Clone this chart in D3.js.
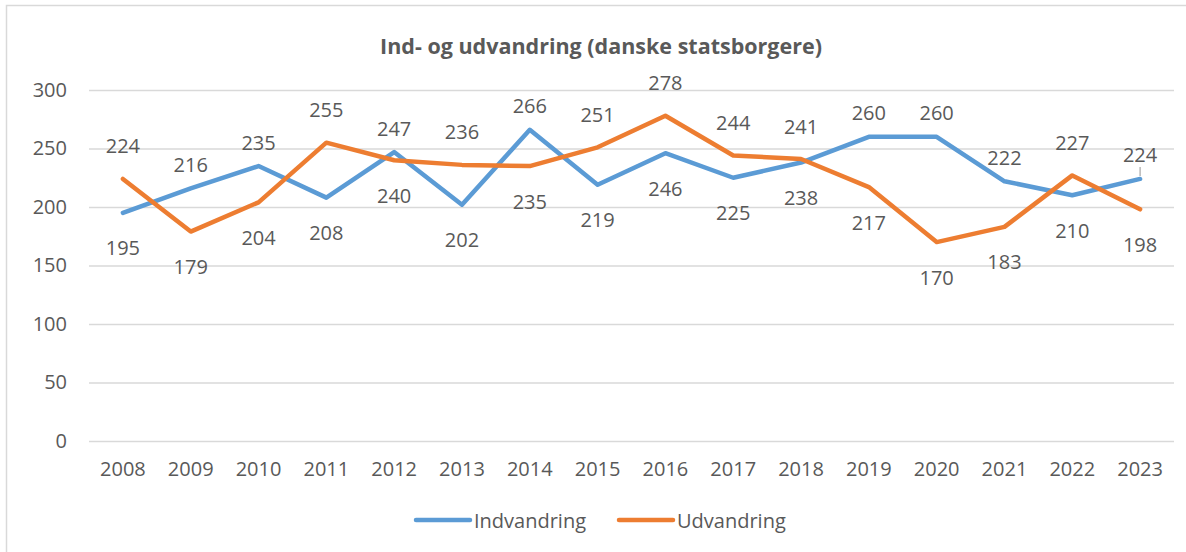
<!DOCTYPE html>
<html>
<head>
<meta charset="utf-8">
<script src="https://cdn.jsdelivr.net/npm/d3@7"></script>
<style>
  html, body { margin: 0; padding: 0; background: #fff; }
  svg { display: block; }
  text { font-family: "Open Sans", "Liberation Sans", sans-serif; fill: #595959; }
</style>
</head>
<body>
<svg id="chart" width="1186" height="552"></svg>
<script>
// Years on the category axis
const years = ["2008","2009","2010","2011","2012","2013","2014","2015",
               "2016","2017","2018","2019","2020","2021","2022","2023"];
// Immigration of Danish citizens
const indvandring = [195, 216, 235, 208, 247, 202, 266, 219, 246, 225, 238, 260, 260, 222, 210, 224];
// Emigration of Danish citizens
const udvandring = [224, 179, 204, 255, 240, 236, 235, 251, 278, 244, 241, 217, 170, 183, 227, 198];
// Value-axis ticks
const yTicks = [0, 50, 100, 150, 200, 250, 300];

const title = "Ind- og udvandring (danske statsborgere)";
const series = [
  { name: "Indvandring", values: indvandring, color: "#5B9BD5", above: -24 },
  { name: "Udvandring",  values: udvandring,  color: "#ED7D31", above: -33 }
];
const FONT = "'Open Sans', 'Liberation Sans', sans-serif";
const FS = "20px";

const svg = d3.select("#chart");

// outer chart frame
svg.append("rect")
  .attr("x", 6.5).attr("y", 5.5)
  .attr("width", 1200).attr("height", 600)
  .attr("fill", "none").attr("stroke", "#D9D9D9").attr("stroke-width", 1.5);

const x = d3.scaleBand().domain(years).range([89, 1174]);
const y = d3.scaleLinear().domain([0, 300]).range([441, 90]);
const cx = d => x(d) + x.bandwidth() / 2;

// title
svg.append("text")
  .attr("x", 601).attr("y", 45)
  .attr("text-anchor", "middle").attr("dominant-baseline", "central")
  .style("font-size", "21.5px").style("font-weight", "bold")
  .text(title);

// horizontal gridlines + value labels
const yAxis = d3.axisLeft(y).tickValues(yTicks).tickSize(-(1174 - 89)).tickPadding(22);
const gy = svg.append("g").attr("transform", "translate(89,0)").call(yAxis);
gy.select(".domain").remove();
gy.selectAll(".tick line").attr("stroke", "#D9D9D9").attr("stroke-width", 1.5);
gy.selectAll(".tick text")
  .attr("fill", "#595959")
  .style("font-size", FS)
  .style("font-family", FONT);

// category labels
const xAxis = d3.axisBottom(x).tickSize(0).tickPadding(21);
const gx = svg.append("g").attr("transform", "translate(0,441)").call(xAxis);
gx.select(".domain").remove();
gx.selectAll(".tick text")
  .attr("fill", "#595959")
  .style("font-size", FS)
  .style("font-family", FONT);

// series lines
const line = d3.line().x((d, i) => cx(years[i])).y(d => y(d));
series.forEach(s => {
  svg.append("path")
    .datum(s.values)
    .attr("d", line)
    .attr("fill", "none")
    .attr("stroke", s.color)
    .attr("stroke-width", 4.5)
    .attr("stroke-linejoin", "round")
    .attr("stroke-linecap", "round");
});

// data labels: the higher value of each year sits above its point, the lower below
series.forEach((s, si) => {
  const other = series[1 - si].values;
  const labelY = (d, i) => y(d) + (d >= other[i] ? s.above : 35);
  svg.append("g").selectAll("text")
    .data(s.values)
    .join("text")
    .attr("x", (d, i) => cx(years[i]))
    .attr("y", labelY)
    .attr("text-anchor", "middle")
    .attr("dominant-baseline", "central")
    .style("font-size", FS)
    .text(d => d);
  // leader line for the last label of the immigration series
  if (si === 0) {
    const last = s.values.length - 1;
    const ly = labelY(s.values[last], last);
    svg.append("line")
      .attr("x1", cx(years[last])).attr("x2", cx(years[last]))
      .attr("y1", ly + 12).attr("y2", y(s.values[last]) - 3)
      .attr("stroke", "#A6A6A6").attr("stroke-width", 1.2);
  }
});

// legend
const legendItems = [
  { name: "Indvandring", color: "#5B9BD5", x: 416 },
  { name: "Udvandring",  color: "#ED7D31", x: 619 }
];
const lg = svg.append("g");
legendItems.forEach(it => {
  lg.append("line")
    .attr("x1", it.x).attr("x2", it.x + 54)
    .attr("y1", 520).attr("y2", 520)
    .attr("stroke", it.color).attr("stroke-width", 4.5).attr("stroke-linecap", "round");
  lg.append("text")
    .attr("x", it.x + 58).attr("y", 520)
    .attr("dominant-baseline", "central")
    .style("font-size", FS)
    .text(it.name);
});
</script>
</body>
</html>
